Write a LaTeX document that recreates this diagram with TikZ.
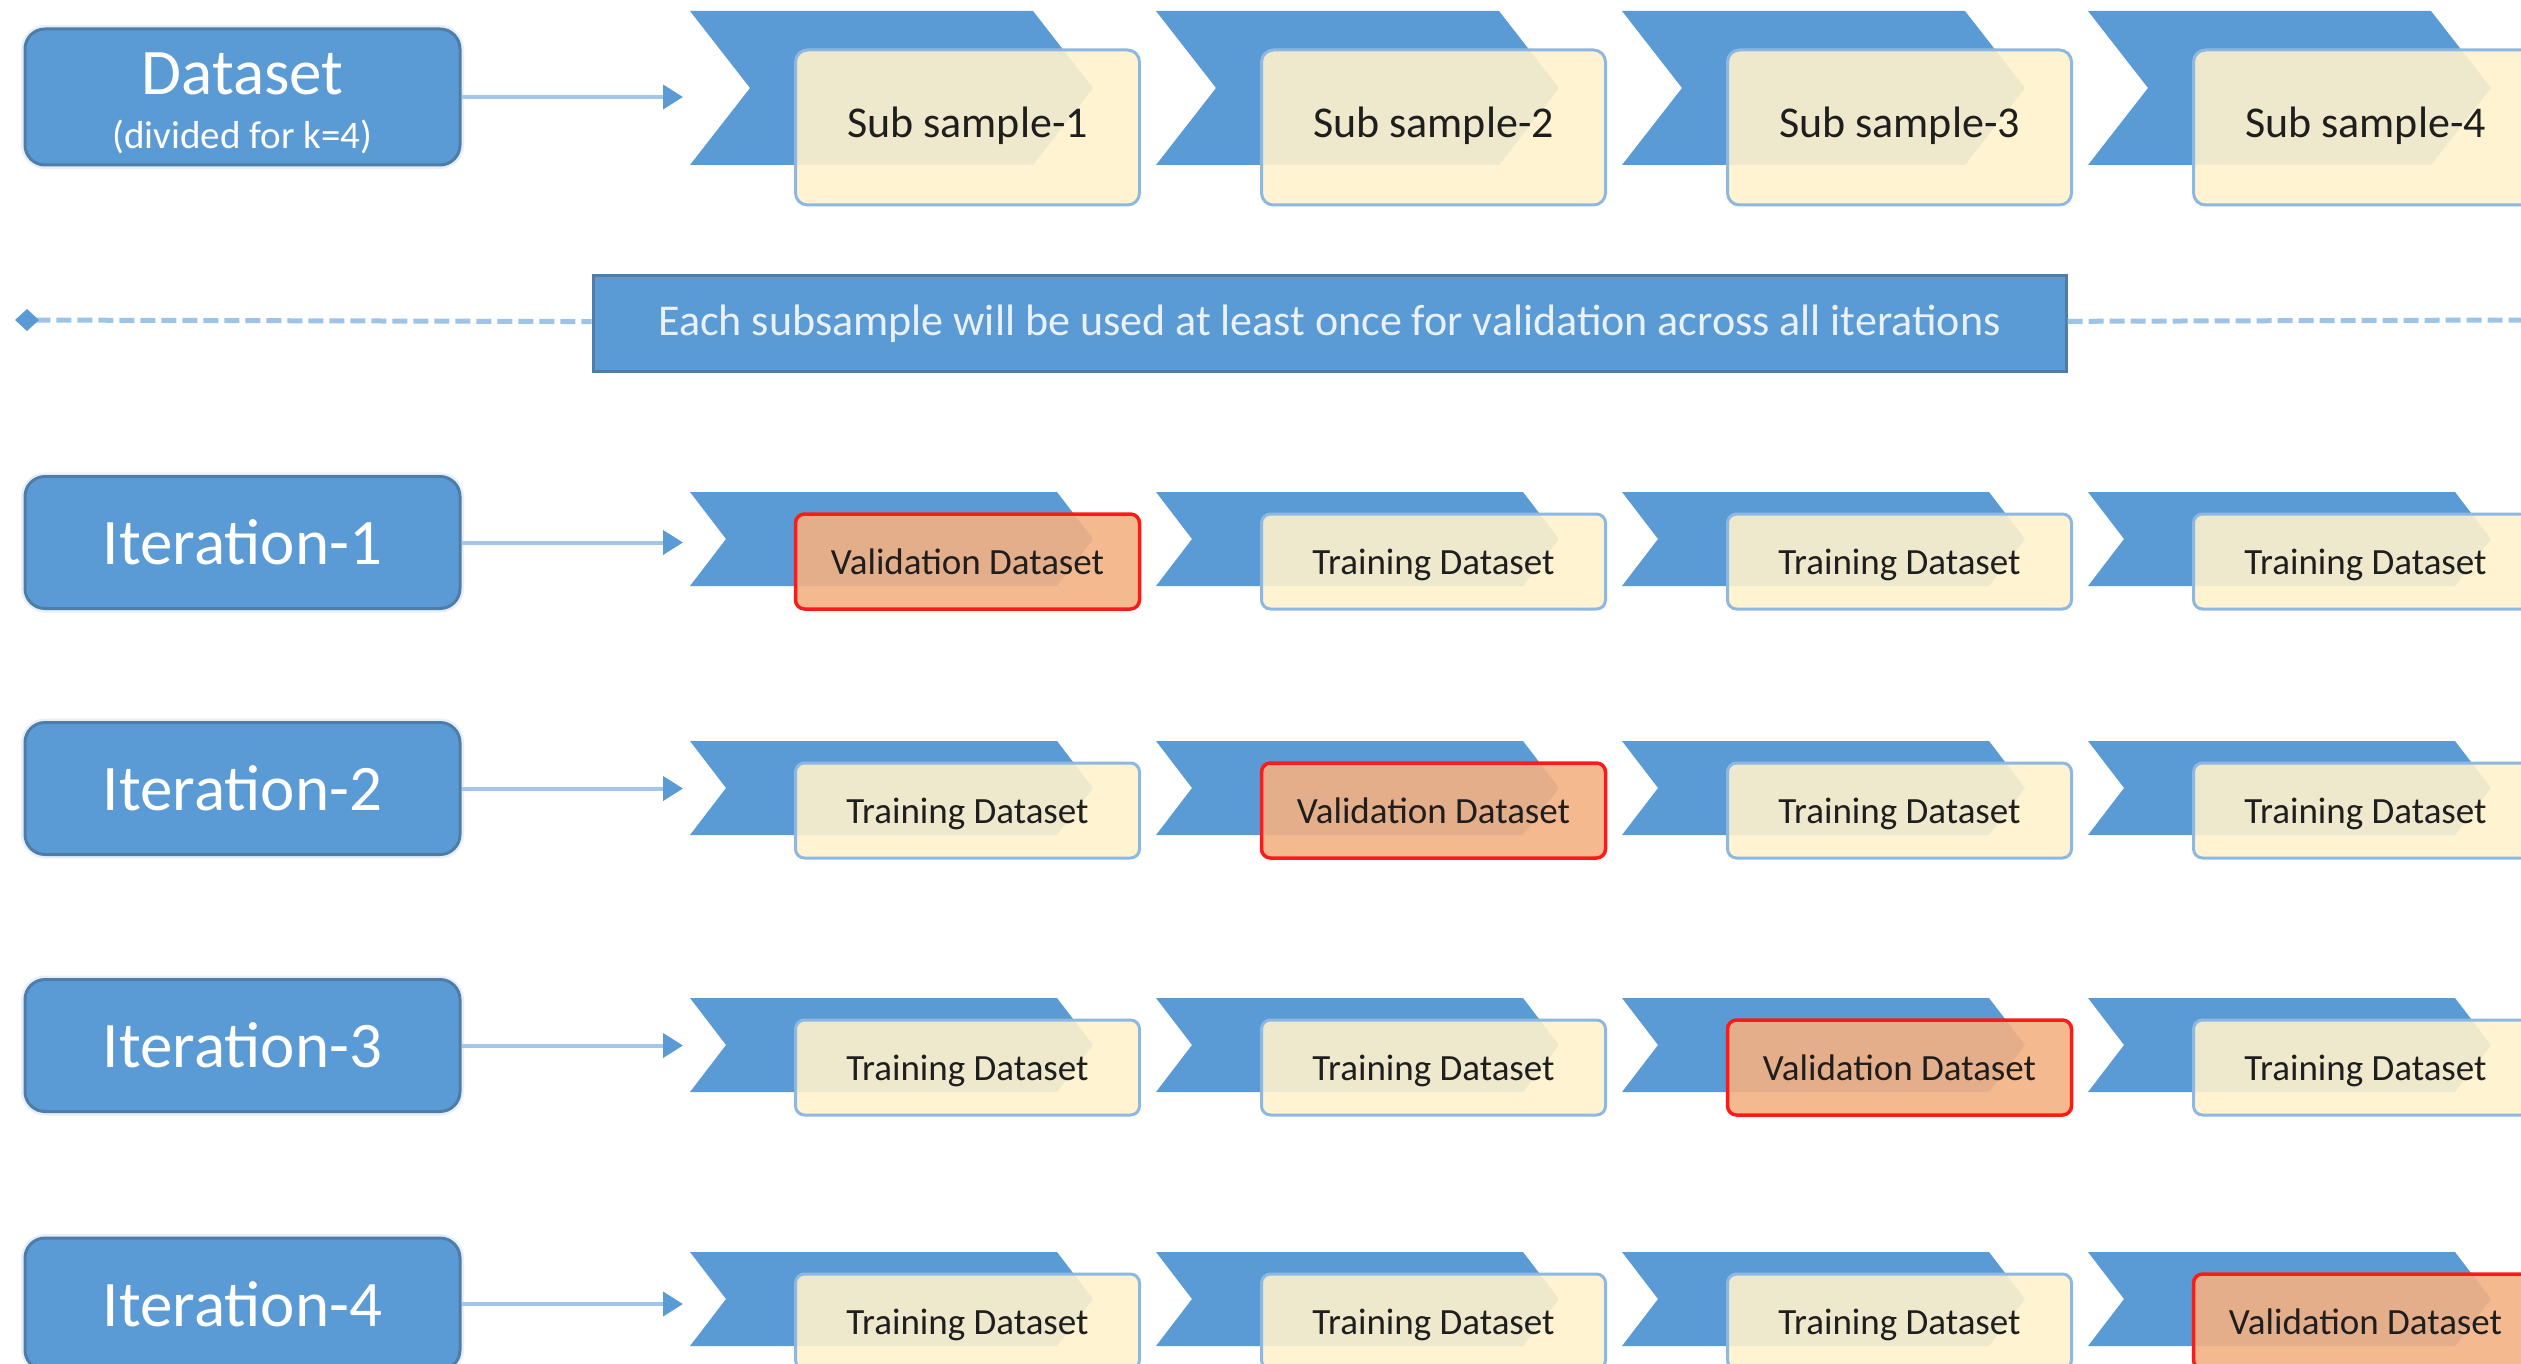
\documentclass[tikz,border=0pt]{standalone}
\usepackage{fontspec}
\setmainfont{Carlito}
\usetikzlibrary{arrows.meta}

\definecolor{chevblue}{HTML}{5B9BD5}
\definecolor{blueedge}{HTML}{4E7DAA}
\definecolor{glow}{HTML}{E8EFF7}
\definecolor{boxyellow}{HTML}{FFF2CC}
\definecolor{subedge}{HTML}{8DB8E3}
\definecolor{valorange}{HTML}{F4B183}
\definecolor{valedge}{HTML}{FF1A1A}
\definecolor{linkblue}{HTML}{A4C6E9}
\definecolor{dashblue}{HTML}{9DC3E6}
\definecolor{textdark}{HTML}{1E1E1E}
\definecolor{bannertext}{HTML}{EAF1F9}

\newcommand\setfs[1]{\fontsize{#1}{#1}\selectfont}
% chevron: left x, centre y, half height, point depth
\newcommand\drawchevron[4]{%
  \fill[chevblue] (#1,#2-#3) -- (#1+403-#4,#2-#3) -- (#1+403,#2)
    -- (#1+403-#4,#2+#3) -- (#1,#2+#3) -- (#1+#4,#2) -- cycle;}

\begin{document}
\begin{tikzpicture}[x=1pt,y=-1pt,
  bluebox/.style={draw=blueedge, line width=3pt, fill=chevblue,
    rounded corners=20pt, minimum width=435pt, inner sep=0pt,
    text=white, font=\setfs{65},
    preaction={draw=glow, line width=8pt}},
  subbox/.style={draw=subedge, line width=3pt, fill=boxyellow,
    fill opacity=0.9, text opacity=1, rounded corners=12pt,
    minimum width=344pt, inner sep=0pt, text=textdark, text depth=0pt},
  trainbox/.style={subbox, minimum height=95pt, rounded corners=9pt,
    font=\setfs{37}},
  valbox/.style={trainbox, fill=valorange, draw=valedge, line width=3.5pt},
  banner/.style={fill=chevblue, draw=blueedge, line width=3pt,
    minimum width=1473pt, minimum height=95pt, inner sep=0pt,
    text=bannertext, font=\setfs{44}},
  conn/.style={draw=linkblue, line width=4pt,
    -{Triangle[length=20pt,width=24pt,color=chevblue]}},
  dashline/.style={draw=dashblue, line width=5pt, dash pattern=on 15pt off 6pt}]

\useasboundingbox (0,0) rectangle (2521,1364);
\clip (0,0) rectangle (2521,1364);

% chevron strips
\foreach \L in {690,1156,1622,2088} {\drawchevron{\L}{88}{77}{60}}
\foreach \cy in {539,788,1045,1299} {
  \foreach \L in {690,1156,1622,2088} {\drawchevron{\L}{\cy}{47}{36}}
}

% dataset and its four sub samples
\node[bluebox, minimum height=136pt] (ds) at (242.5,97) {};
\node[anchor=base, text=white, font=\setfs{65}] (dsT) at (242.5,95) {Dataset};
\node[anchor=base, text=white, font=\setfs{39}] (dsS) at (242.5,149) {(divided for k=4)};
\foreach \i/\L in {1/690,2/1156,3/1622,4/2088} {
  \node[subbox, minimum height=155pt, text depth=10pt, font=\setfs{44}]
    (s\i) at (\L+277.5,127.5) {Sub sample-\i};
}
\coordinate (a0) at (683,97);
\draw[conn] (ds) -- (a0);

% note across the width
\node[banner] (note) at (1329.5,323.5)
  {Each subsample will be used at least once for validation across all iterations};
\coordinate (dl) at (15,320);
\coordinate (dr) at (2521,320);
\draw[dashline, {Diamond[length=24pt,width=22pt,color=chevblue]}-] (dl) -- (note);
\draw[dashline] (note) -- (dr);

% iterations
\foreach \r/\y/\cy in {1/542.5/539,2/788.5/788,3/1045.5/1045,4/1304/1299} {
  \node[bluebox, minimum height=132pt] (it\r) at (242.5,\y) {Iteration-\r};
  \coordinate (t\r) at (683,\y);
  \draw[conn] (it\r) -- (t\r);
  \foreach \c/\L in {1/690,2/1156,3/1622,4/2088} {
    \ifnum\r=\c
      \node[valbox] (b\r\c) at (\L+277.5,\cy+22.5) {Validation Dataset};
    \else
      \node[trainbox] (b\r\c) at (\L+277.5,\cy+22.5) {Training Dataset};
    \fi
  }
}
\end{tikzpicture}
\end{document}
